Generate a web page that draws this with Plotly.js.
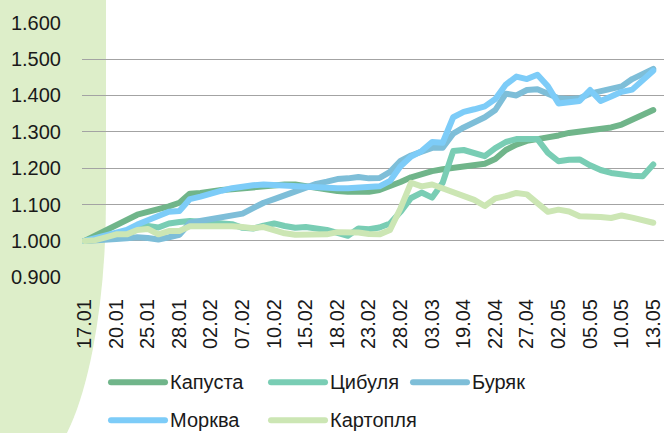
<!DOCTYPE html>
<html>
<head>
<meta charset="utf-8">
<script src="https://cdn.plot.ly/plotly-3.0.1.min.js"></script>
<style>
html,body{margin:0;padding:0;background:#ffffff;overflow:hidden;}
#bg{position:absolute;left:0;top:0;width:106px;height:470px;background:#ddeec9;border-bottom-right-radius:79px 270px;}
#chart{position:absolute;left:0;top:0;width:664px;height:433px;}
.scatterlayer .js-line{stroke-linejoin:round;stroke-linecap:round;}
.shapelayer path{stroke-linecap:round;}
</style>
</head>
<body>
<div id="bg"></div>
<div id="chart"></div>
<script>
const dates = ['17.01','18.01','19.01','20.01','21.01','24.01','25.01','26.01','27.01','28.01','31.01',
'01.02','02.02','03.02','04.02','07.02','08.02','09.02','10.02','11.02','14.02','15.02','16.02','17.02','18.02','21.02','22.02','23.02','24.02','25.02','28.02',
'01.03','02.03','03.03','04.03','18.04','19.04','20.04','21.04','22.04','25.04','26.04','27.04','28.04','29.04',
'02.05','03.05','04.05','05.05','06.05','09.05','10.05','11.05','12.05','13.05'];

const tickLabels = ['17.01','20.01','25.01','28.01','02.02','07.02','10.02','15.02','18.02','23.02','28.02','03.03','19.04','22.04','27.04','02.05','05.05','10.05','13.05'];

const kapusta = [1.000,1.015,1.030,1.045,1.058,1.072,1.080,1.086,1.095,1.105,
1.130,1.132,1.137,1.140,1.142,1.145,1.150,1.152,1.155,1.155,
1.155,1.150,1.145,1.140,1.137,1.135,1.135,1.135,1.140,1.150,
1.162,1.175,1.185,1.192,1.197,1.200,1.205,1.208,1.212,1.225,
1.250,1.265,1.275,1.280,1.283,1.290,1.297,1.300,1.305,1.308,
1.312,1.320,1.332,1.345,1.360];

const tsybulia = [1.000,1.003,1.006,1.008,1.012,1.035,1.041,1.037,1.048,1.052,
1.055,1.053,1.050,1.046,1.046,1.036,1.034,1.042,1.048,1.041,
1.036,1.038,1.035,1.030,1.022,1.014,1.034,1.032,1.037,1.048,
1.080,1.118,1.133,1.119,1.160,1.247,1.250,1.242,1.233,1.255,
1.272,1.280,1.282,1.280,1.242,1.219,1.223,1.224,1.208,1.195,
1.187,1.182,1.179,1.178,1.210];

const buriak = [1.000,1.003,1.005,1.005,1.007,1.010,1.008,1.004,1.010,1.017,
1.050,1.055,1.060,1.062,1.068,1.075,1.090,1.105,1.115,1.125,
1.138,1.148,1.157,1.163,1.170,1.172,1.176,1.172,1.173,1.190,
1.220,1.235,1.247,1.256,1.256,1.295,1.312,1.325,1.340,1.360,
1.405,1.400,1.415,1.417,1.405,1.392,1.390,1.392,1.405,1.412,
1.420,1.425,1.445,1.460,1.473];

const morkva = [1.000,1.008,1.015,1.022,1.030,1.045,1.058,1.070,1.080,1.082,
1.115,1.122,1.128,1.138,1.145,1.150,1.153,1.155,1.153,1.152,
1.150,1.148,1.147,1.146,1.145,1.145,1.146,1.147,1.150,1.165,
1.205,1.232,1.247,1.272,1.270,1.340,1.355,1.362,1.370,1.390,
1.430,1.452,1.445,1.457,1.425,1.378,1.380,1.385,1.415,1.385,
1.397,1.410,1.416,1.443,1.468];

const kartoplia = [1.000,1.002,1.010,1.018,1.018,1.030,1.033,1.018,1.027,1.027,
1.040,1.041,1.041,1.041,1.040,1.038,1.035,1.038,1.028,1.021,
1.017,1.016,1.016,1.018,1.024,1.024,1.023,1.019,1.018,1.030,
1.090,1.160,1.150,1.155,1.145,1.137,1.125,1.113,1.096,1.117,
1.123,1.132,1.128,1.105,1.080,1.086,1.081,1.068,1.068,1.066,
1.063,1.070,1.064,1.056,1.050];

const names = ['Капуста','Цибуля','Буряк','Морква','Картопля'];
const colors = ['#70b58a','#79cdb4','#7ebed8','#7dccf8','#cce6b4'];
const series = [kapusta, tsybulia, buriak, morkva, kartoplia];

const traces = series.map((ys, i) => ({
  type: 'scatter', mode: 'lines', name: names[i],
  x: dates, y: ys,
  line: {color: colors[i], width: 6},
  hoverinfo: 'skip', showlegend: false
}));

// plot geometry in pixels
const W = 664, H = 433, L = 82, R = 0, T = 21.6, B = 154.6;
const pw = W - L - R, ph = H - T - B;
const px = x => (x - L) / pw;
const py = y => (H - B - y) / ph;

// custom legend (two rows)
const legendPos = [
  {lx: 108, rowY: 383}, {lx: 268, rowY: 383}, {lx: 410, rowY: 383},
  {lx: 108, rowY: 421}, {lx: 268, rowY: 421}
];
const shapes = [], annotations = [];
legendPos.forEach((p, i) => {
  shapes.push({type: 'line', xref: 'paper', yref: 'paper',
    x0: px(p.lx + 3), x1: px(p.lx + 57), y0: py(p.rowY), y1: py(p.rowY),
    line: {color: colors[i], width: 6}});
  annotations.push({xref: 'paper', yref: 'paper', x: px(p.lx + 60), y: py(p.rowY),
    xanchor: 'left', yanchor: 'middle', showarrow: false, text: names[i],
    font: {size: 20, color: '#1a1a1a'}});
});

const layout = {
  width: W, height: H,
  margin: {l: L, r: R, t: T, b: B, pad: 0},
  paper_bgcolor: 'rgba(0,0,0,0)', plot_bgcolor: 'rgba(0,0,0,0)',
  font: {family: '"Liberation Sans", Arial, sans-serif', size: 20, color: '#1a1a1a'},
  showlegend: false,
  xaxis: {
    type: 'category', range: [-0.25, 55.02],
    tickmode: 'array', tickvals: tickLabels, ticktext: tickLabels,
    tickangle: -90, showgrid: false, zeroline: false, showline: false,
    ticks: 'outside', ticklen: 12, tickcolor: 'rgba(0,0,0,0)',
    tickfont: {size: 20, color: '#1a1a1a'}
  },
  yaxis: {
    range: [0.898, 1.602], tickmode: 'linear', tick0: 0.9, dtick: 0.1,
    tickformat: '.3f', showgrid: true, gridcolor: '#a3a3a3', gridwidth: 1,
    zeroline: false, showline: false,
    ticks: 'outside', ticklen: 16, tickcolor: 'rgba(0,0,0,0)',
    tickfont: {size: 20, color: '#1a1a1a'}
  },
  shapes: shapes,
  annotations: annotations
};

Plotly.newPlot('chart', traces, layout, {staticPlot: true, displayModeBar: false});
</script>
</body>
</html>
